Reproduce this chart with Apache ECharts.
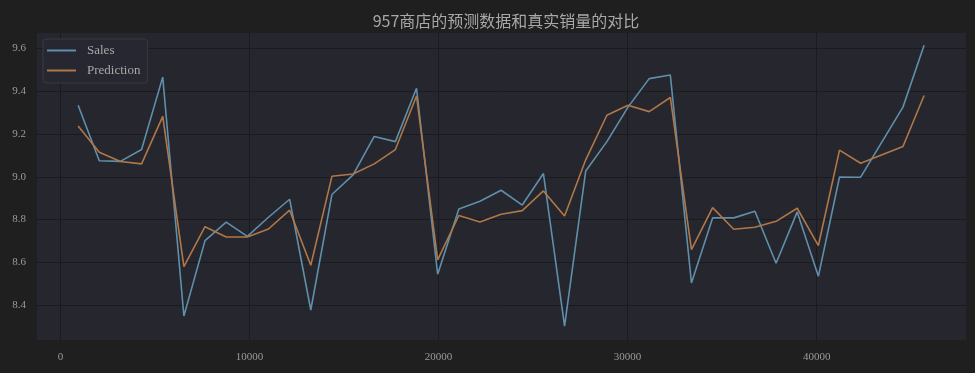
<!DOCTYPE html>
<html>
<head>
<meta charset="utf-8">
<script src="https://cdn.jsdelivr.net/npm/echarts@6/dist/echarts.min.js"></script>
<style>
html,body{margin:0;padding:0;background:#1f1f1f;}
#c{width:975px;height:373px;}
</style>
</head>
<body>
<div id="c"></div>
<script>
const titleText = '957商店的预测数据和真实销量的对比';
const seriesNames = ['Sales', 'Prediction'];
const xValues = [936, 2055, 3173, 4292, 5411, 6530, 7648, 8767, 9886, 11004, 12123, 13242, 14360,
  15479, 16598, 17717, 18835, 19954, 21073, 22191, 23310, 24429, 25547, 26666, 27785, 28904, 30022, 31141,
  32260, 33378, 34497, 35616, 36734, 37853, 38972, 40091, 41209, 42328,
  44565, 45684];
const sales = [9.334, 9.075, 9.072, 9.127, 9.465, 8.350, 8.702, 8.788, 8.722, 8.811, 8.895, 8.378, 8.917,
  9.009, 9.188, 9.164, 9.413, 8.545, 8.850, 8.886, 8.937, 8.868, 9.015, 8.303, 9.027, 9.164, 9.325, 9.458,
  9.475, 8.504, 8.808, 8.808, 8.839, 8.596, 8.836, 8.535, 8.999, 8.998,
  9.325, 9.614];
const prediction = [9.237, 9.114, 9.071, 9.060, 9.282, 8.581, 8.767, 8.719, 8.719, 8.756, 8.844, 8.587, 9.002,
  9.013, 9.060, 9.127, 9.377, 8.612, 8.819, 8.789, 8.825, 8.842, 8.934, 8.817, 9.079, 9.287, 9.334, 9.304,
  9.370, 8.660, 8.856, 8.755, 8.764, 8.792, 8.853, 8.679, 9.124, 9.063,
  9.141, 9.379];

const pairs = (xs, ys) => xs.map((x, i) => [x, ys[i]]);
const serifFont = '"Liberation Serif", "DejaVu Serif", serif';
const gridColor = '#1b1b1e';

const chart = echarts.init(document.getElementById('c'), null, {renderer: 'canvas'});
chart.setOption({
  backgroundColor: '#1f1f1f',
  animation: false,
  title: {
    text: titleText,
    left: 501, top: 8, textAlign: 'center',
    textStyle: {color: '#a8a8a8', fontSize: 16, fontWeight: 'normal', fontFamily: '"Noto Sans CJK SC", sans-serif'}
  },
  legend: {
    left: 43, top: 39, orient: 'vertical',
    data: seriesNames,
    icon: 'rect', itemWidth: 29, itemHeight: 2, itemGap: 7,
    backgroundColor: '#262730', borderColor: '#3a3b40', borderWidth: 1, borderRadius: 3,
    padding: [5, 7, 6, 4],
    textStyle: {color: '#a8a8a8', fontSize: 13, fontFamily: serifFont, padding: [0, 0, 0, 6]}
  },
  grid: {left: 37, right: 9, top: 33, bottom: 33, show: true, backgroundColor: '#25262e', borderWidth: 0},
  xAxis: {
    type: 'value', min: -1240, max: 47900,
    axisLine: {show: false}, axisTick: {show: false},
    axisLabel: {color: '#9a9a9a', fontSize: 11, fontFamily: serifFont, margin: 12, showMinLabel: false, showMaxLabel: false,
      formatter: v => String(Math.round(v))},
    splitLine: {show: true, showMinLine: false, showMaxLine: false, lineStyle: {color: gridColor, width: 1}}
  },
  yAxis: {
    type: 'value', min: 8.238, max: 9.671, splitNumber: 7,
    axisLine: {show: false}, axisTick: {show: false},
    axisLabel: {color: '#9a9a9a', fontSize: 11, fontFamily: serifFont, margin: 11, showMinLabel: false, showMaxLabel: false,
      formatter: v => v.toFixed(1)},
    splitLine: {show: true, showMinLine: false, showMaxLine: false, lineStyle: {color: gridColor, width: 1}}
  },
  series: [
    {name: seriesNames[0], type: 'line', data: pairs(xValues, sales), showSymbol: false,
      color: '#5f8fab', lineStyle: {width: 1.6, color: '#5f8fab'}},
    {name: seriesNames[1], type: 'line', data: pairs(xValues, prediction), showSymbol: false,
      color: '#b07848', lineStyle: {width: 1.6, color: '#b07848'}}
  ]
});
</script>
</body>
</html>
